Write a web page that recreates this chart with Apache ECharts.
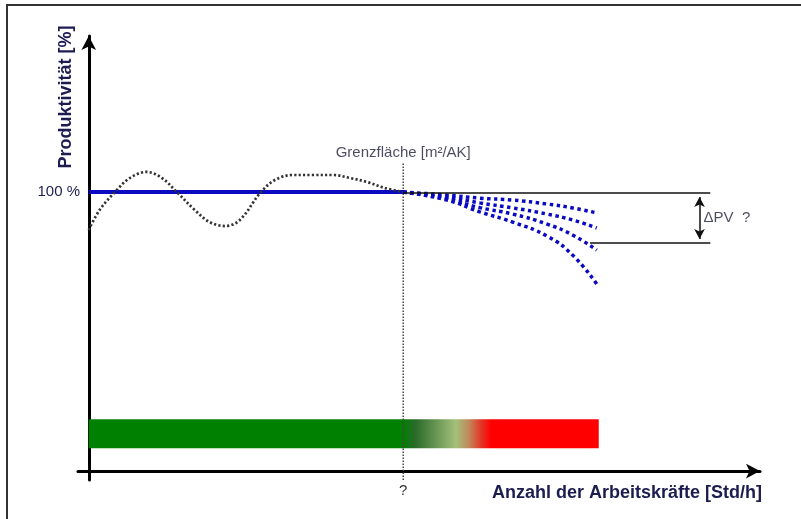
<!DOCTYPE html>
<html>
<head>
<meta charset="utf-8">
<script src="https://cdn.jsdelivr.net/npm/echarts@6/dist/echarts.min.js"></script>
<style>
html,body{margin:0;padding:0;background:#fff;}
#chart{width:801px;height:519px;}
</style>
</head>
<body>
<div id="chart"></div>
<script>
// ---- data (abstract units: x = labour, y = productivity %) ----
var boundaryX = 46.8;          // Grenzfläche
var barEndX = 75.9;

var blueLine = [[0, 100], [46.8, 100]];

var oscX = [0, 1.6, 3.9, 6.1, 8.6, 10.9, 13.1, 15.8, 18.0, 20.3, 22.5, 25.5, 27.7, 30.4, 33.4, 36.4, 38.9, 41.4, 44.1, 46.8];
var oscY = [86.4, 93.5, 100, 105, 107.2, 105, 100, 93.5, 89.2, 87.8, 90, 99.6, 104.3, 106.1, 106.1, 106.1, 105, 103.6, 101.4, 100];

var fanX  = [46.8, 53.3, 58.2, 63.1, 68.2, 72.0, 75.6];
var fan1  = [100, 98.9, 97.8, 97.1, 95.7, 94.3, 92.5];
var fan2  = [100, 98.2, 96.1, 94.3, 92.1, 90.0, 87.1];
var fan3  = [100, 97.5, 94.4, 92.1, 88.5, 84.6, 79.2];
var fan4  = [100, 97.1, 92.9, 89.2, 84.2, 77.4, 67.0];

var deltaLow = 81.7;           // lower bound of ΔPV
var deltaLowStartX = 74.6;
var refLineEndX = 92.5;
var deltaArrowX = 90.9;
var barTop = 18.6, barBottom = 8.2;

var yTickLabels = [100];
var xTickLabels = [boundaryX];

function pairs(xs, ys){ return xs.map(function(x,i){ return [x, ys[i]]; }); }

var navy = '#1c1c50';
var blue = '#0a0ac4';
var font = 'Liberation Sans';

var chart = echarts.init(document.getElementById('chart'));

var fanStyle = {color: blue, width: 3.5, type: [3.5, 3.5]};

chart.setOption({
  animation: false,
  backgroundColor: '#fff',
  grid: {left: 78, right: 41, top: 36, bottom: 39, containLabel: false},
  xAxis: {
    type: 'value', min: -1.6, max: 99.9,
    splitLine: {show: false},
    axisTick: {show: false},
    axisLine: {show: true, onZero: true, symbol: ['none', 'arrow'], symbolSize: [11, 14],
      lineStyle: {color: '#000', width: 3}},
    axisLabel: {show: true, customValues: xTickLabels, formatter: function(){ return '?'; },
      color: '#333', fontSize: 15, margin: 3, fontFamily: font},
    name: 'Anzahl der Arbeitskräfte [Std/h]',
    nameLocation: 'end', nameGap: 2,
    nameTextStyle: {align: 'right', verticalAlign: 'top', padding: [13, 0, 0, 0],
      fontSize: 18, fontWeight: 'bold', color: navy, fontFamily: font}
  },
  yAxis: {
    type: 'value', min: -3.2, max: 155.9,
    splitLine: {show: false},
    axisTick: {show: false},
    axisLine: {show: true, onZero: true, symbol: ['none', 'arrow'], symbolSize: [11, 14],
      lineStyle: {color: '#000', width: 3}},
    axisLabel: {show: true, customValues: yTickLabels, formatter: function(v){ return v + ' %'; },
      color: navy, fontSize: 15, margin: -2, fontFamily: font}
  },
  graphic: [
    {type: 'rect', shape: {x: 7, y: 5, width: 900, height: 600}, style: {fill: 'none', stroke: '#333', lineWidth: 2}, silent: true, z: -10},
    {type: 'text', x: 66, y: 97, rotation: Math.PI / 2,
      style: {text: 'Produktivität [%]', fontSize: 18, fontWeight: 'bold', fill: navy, fontFamily: font,
        align: 'center', verticalAlign: 'middle'}}
  ],
  series: [
    {
      type: 'line', data: [], silent: true,
      markArea: {
        silent: true,
        itemStyle: {
          color: new echarts.graphic.LinearGradient(0, 0, 1, 0, [
            {offset: 0, color: '#008000'},
            {offset: 0.615, color: '#008000'},
            {offset: 0.64, color: '#2a6a2a'},
            {offset: 0.72, color: '#a3c07a'},
            {offset: 0.745, color: '#c08a5a'},
            {offset: 0.77, color: '#e43426'},
            {offset: 0.79, color: '#ff0000'},
            {offset: 1, color: '#ff0000'}
          ])
        },
        data: [[{coord: [0, barTop]}, {coord: [barEndX, barBottom]}]]
      },
      markLine: {
        silent: true, symbol: ['none', 'none'],
        lineStyle: {color: '#111', width: 1.5, type: 'solid'},
        label: {show: false},
        data: [
          [{coord: [boundaryX, 99.7]}, {coord: [refLineEndX, 99.7]}],
          [{coord: [deltaLowStartX, deltaLow]}, {coord: [refLineEndX, deltaLow]}]
        ]
      }
    },
    {
      type: 'line', data: [], silent: true,
      markLine: {
        silent: true, symbol: ['arrow', 'arrow'], symbolSize: [8, 10],
        lineStyle: {color: '#111', width: 1.5, type: 'solid'},
        label: {show: false},
        data: [[{coord: [deltaArrowX, 98.2]}, {coord: [deltaArrowX, 83.2]}]]
      }
    },
    {
      type: 'line', data: [[boundaryX, -3.2], [boundaryX, 110.5]], symbol: 'none', silent: true,
      lineStyle: {color: '#444', width: 1.5, type: [1.5, 1.5]}
    },
    {
      type: 'line', data: blueLine, symbol: 'none', silent: true,
      lineStyle: {color: blue, width: 4}
    },
    {
      type: 'line', data: pairs(oscX, oscY), symbol: 'none', smooth: 0.35, silent: true,
      lineStyle: {color: '#333', width: 2.7, type: [2.2, 2.2]}
    },
    {type: 'line', data: pairs(fanX, fan1), symbol: 'none', smooth: true, silent: true, lineStyle: fanStyle},
    {type: 'line', data: pairs(fanX, fan2), symbol: 'none', smooth: true, silent: true, lineStyle: fanStyle},
    {type: 'line', data: pairs(fanX, fan3), symbol: 'none', smooth: true, silent: true, lineStyle: fanStyle},
    {type: 'line', data: pairs(fanX, fan4), symbol: 'none', smooth: true, silent: true, lineStyle: fanStyle},
    {
      type: 'scatter', symbolSize: 0, silent: true,
      data: [
        {value: [boundaryX, 110.4], label: {show: true, position: 'top', distance: 3, formatter: 'Grenzfläche [m²/AK]',
          fontSize: 15, color: '#1e1e38', fontFamily: font}},
        {value: [deltaArrowX + 0.3, 90.7], label: {show: true, position: 'right', distance: 2, formatter: 'ΔPV  ?',
          fontSize: 15, color: '#1e1e38', fontFamily: font}}
      ]
    }
  ]
});
</script>
</body>
</html>
